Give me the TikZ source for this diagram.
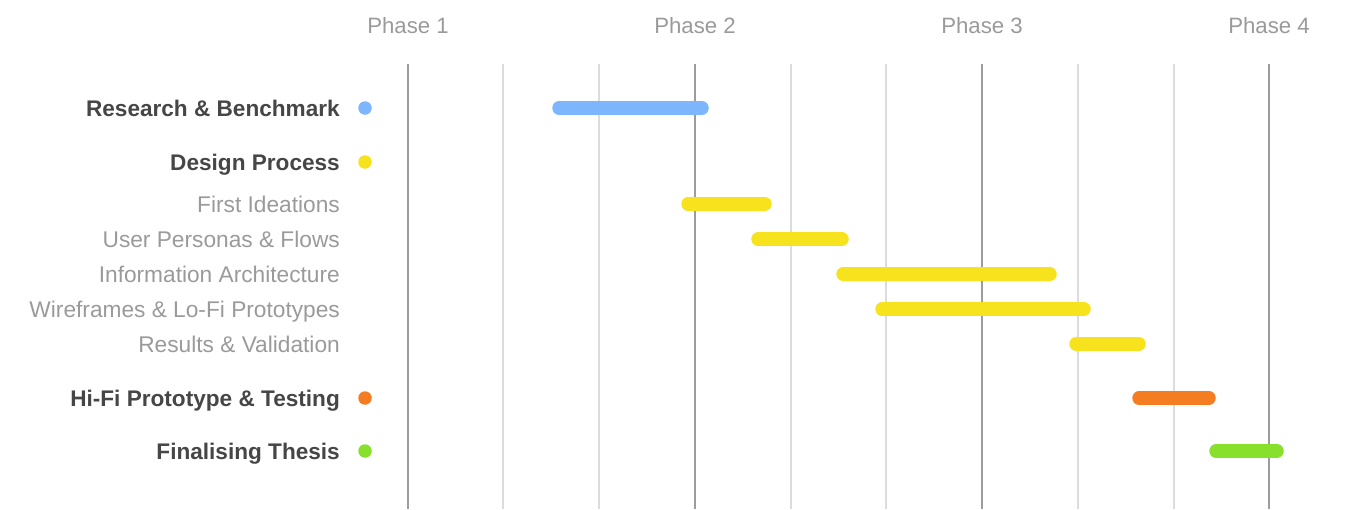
\documentclass[tikz,border=0pt]{standalone}
\usepackage{fontspec}
\setmainfont{Liberation Sans}
\definecolor{txtdark}{HTML}{464646}
\definecolor{txtlight}{HTML}{9A9A9A}
\definecolor{gridmajor}{HTML}{9C9C9C}
\definecolor{gridminor}{HTML}{DCDCDC}
\definecolor{cblue}{HTML}{7DB6FC}
\definecolor{cyellow}{HTML}{F6E31E}
\definecolor{corange}{HTML}{F47D22}
\definecolor{cgreen}{HTML}{88DF2C}
\tikzset{
  x=1pt, y=-1pt,
  phase/.style={text=txtlight, font=\fontsize{22.2}{26}\selectfont, anchor=base, inner sep=0pt},
  group/.style={text=txtdark, font=\fontsize{22.6}{26}\selectfont\bfseries, anchor=base east, inner sep=0pt},
  task/.style={text=txtlight, font=\fontsize{22.7}{26}\selectfont, anchor=base east, inner sep=0pt},
  major/.style={draw=gridmajor, line width=2.4pt},
  minor/.style={draw=gridminor, line width=1.5pt},
  bar/.style={line width=13.5pt, line cap=round},
  marker/.style={circle, inner sep=0pt, minimum size=13.5pt},
}
\begin{document}
\begin{tikzpicture}
\useasboundingbox (0,0) rectangle (1351,509);

% grid lines
\foreach \gx in {503,599,791,886,1078,1174}
  \draw[minor] (\gx,64) -- (\gx,509);
\foreach \gx in {408,695,982,1269}
  \draw[major] (\gx,64) -- (\gx,509);

% phase headings
\node[phase] (p1) at (408,33) {Phase 1};
\node[phase] (p2) at (695,33) {Phase 2};
\node[phase] (p3) at (982,33) {Phase 3};
\node[phase] (p4) at (1269,33) {Phase 4};

% row labels
\node[group] (lres) at (340,116) {Research \& Benchmark};
\node[group] (ldes) at (340,170) {Design Process};
\node[task]  (lfi)  at (340,212) {First Ideations};
\node[task]  (lup)  at (340,247) {User Personas \& Flows};
\node[task]  (lia)  at (340,282) {Information Architecture};
\node[task]  (lwf)  at (340,317) {Wireframes \& Lo-Fi Prototypes};
\node[task]  (lrv)  at (340,352) {Results \& Validation};
\node[group] (lhi)  at (340,406) {Hi-Fi Prototype \& Testing};
\node[group] (lfin) at (340,459) {Finalising Thesis};

% legend dots
\node[marker, fill=cblue]   (dres) at (365,108) {};
\node[marker, fill=cyellow] (ddes) at (365,162) {};
\node[marker, fill=corange] (dhi)  at (365,398) {};
\node[marker, fill=cgreen]  (dfin) at (365,451) {};

% schedule bars
\draw[bar, cblue]   (559,108) -- (702,108);
\draw[bar, cyellow] (688,204) -- (765,204);
\draw[bar, cyellow] (758,239) -- (842,239);
\draw[bar, cyellow] (843,274) -- (1050,274);
\draw[bar, cyellow] (882,309) -- (1084,309);
\draw[bar, cyellow] (1076,344) -- (1139,344);
\draw[bar, corange] (1139,398) -- (1209,398);
\draw[bar, cgreen]  (1216,451) -- (1277,451);
\end{tikzpicture}
\end{document}
